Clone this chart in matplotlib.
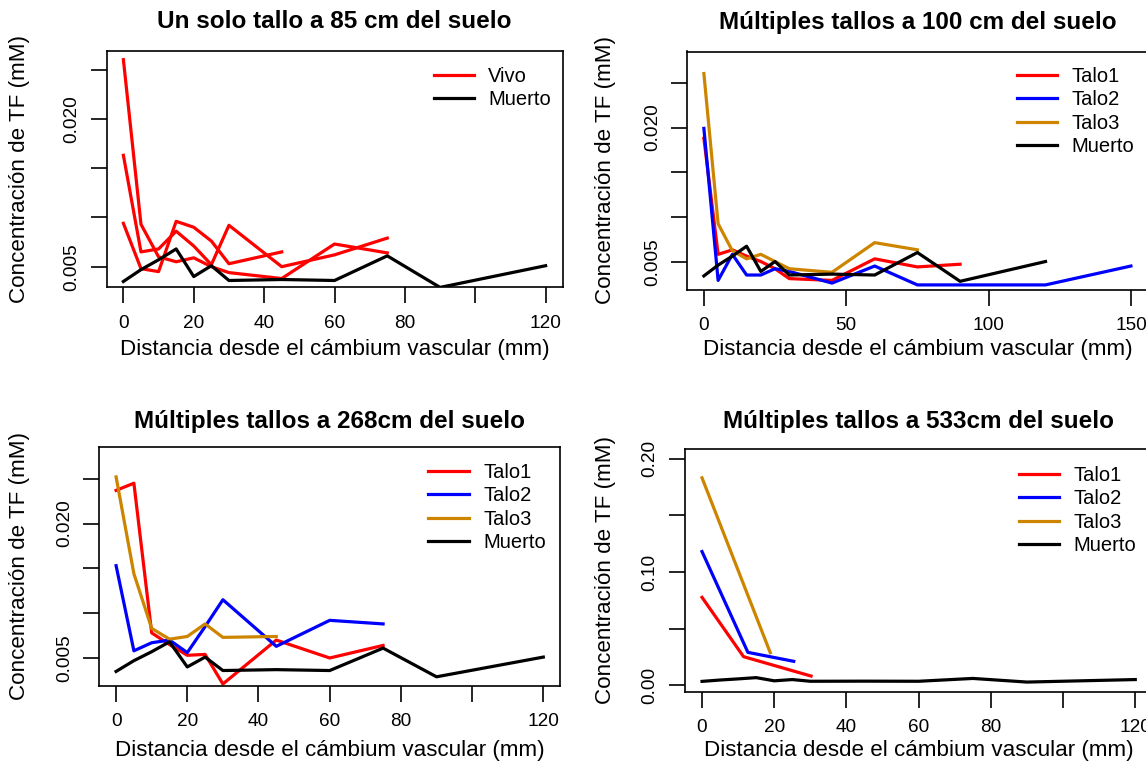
import matplotlib
matplotlib.use('Agg')
from matplotlib import pyplot as plt

# Muerto: the same dead stem is drawn in every panel
muerto_x = [0, 5, 10, 15, 20, 25, 30, 45, 60, 75, 90, 120]
muerto_y = [0.0035, 0.0047, 0.0057, 0.0068, 0.0040, 0.0051, 0.0036, 0.0037, 0.0036, 0.0061, 0.0029, 0.0051]

# panel 1 - un solo tallo a 85 cm, three living profiles (all "Vivo")
vivo_a_x = [0, 5, 10, 15, 20, 25, 30, 45, 60, 75]
vivo_a_y = [0.0163, 0.0065, 0.0068, 0.0086, 0.0071, 0.0052, 0.0092, 0.0050, 0.0062, 0.0079]
vivo_b_x = [0, 5, 10, 15, 20, 25, 30, 45]
vivo_b_y = [0.0094, 0.0048, 0.0045, 0.0096, 0.0090, 0.0076, 0.0053, 0.0065]
vivo_c_x = [0, 5, 10, 15, 20, 25, 30, 45, 60, 75]
vivo_c_y = [0.0260, 0.0093, 0.0060, 0.0055, 0.0059, 0.0050, 0.0044, 0.0038, 0.0073, 0.0064]

# panel 2 - 100 cm
p100_t1_x = [0, 5, 10, 15, 20, 25, 30, 45, 60, 75, 90]
p100_t1_y = [0.0188, 0.0059, 0.0064, 0.0057, 0.0051, 0.0043, 0.0032, 0.0030, 0.0054, 0.0045, 0.0048]
p100_t2_x = [0, 5, 10, 15, 20, 25, 30, 45, 60, 75, 120, 150]
p100_t2_y = [0.0199, 0.0030, 0.0059, 0.0036, 0.0036, 0.0043, 0.0040, 0.0027, 0.0046, 0.0025, 0.0025, 0.0046]
p100_t3_x = [0, 5, 10, 15, 20, 25, 30, 45, 60, 75]
p100_t3_y = [0.0260, 0.0093, 0.0063, 0.0054, 0.0059, 0.0051, 0.0043, 0.0039, 0.0072, 0.0064]

# panel 3 - 268 cm
p268_t1_x = [0, 5, 10, 15, 20, 25, 30, 45, 60, 75]
p268_t1_y = [0.0237, 0.0245, 0.0078, 0.0065, 0.0053, 0.0054, 0.0021, 0.0070, 0.0050, 0.0064]
p268_t2_x = [0, 5, 10, 15, 20, 25, 30, 45, 60, 75]
p268_t2_y = [0.0153, 0.0058, 0.0067, 0.0070, 0.0056, 0.0085, 0.0115, 0.0063, 0.0092, 0.0088]
p268_t3_x = [0, 5, 10, 15, 20, 25, 30, 45]
p268_t3_y = [0.0252, 0.0144, 0.0083, 0.0071, 0.0074, 0.0088, 0.0073, 0.0074]

# panel 4 - 533 cm
p533_t1_x = [0, 11.5, 30.2]
p533_t1_y = [0.0776, 0.0253, 0.0082]
p533_t2_x = [0, 12.7, 25.4]
p533_t2_y = [0.118, 0.0291, 0.0212]
p533_t3_x = [0, 18.9]
p533_t3_y = [0.183, 0.0288]

titles = ['Un solo tallo a 85 cm del suelo',
          'Múltiples tallos a 100 cm del suelo',
          'Múltiples tallos a 268cm del suelo',
          'Múltiples tallos a 533cm del suelo']
xlab = 'Distancia desde el cámbium vascular (mm)'
ylab = 'Concentración de TF (mM)'
stem_labels = ['Talo1', 'Talo2', 'Talo3', 'Muerto']

RED = '#FF0000'
BLUE = '#0000FF'
GOLD = '#CD8500'
BLACK = '#000000'
LW = 2.3

W, H = 1146, 763
PT = 100 / 72.0  # pixels per point


def add_panel(fig, left, right, top, bottom):
    ax = fig.add_axes([left / W, 1 - bottom / H, (right - left) / W, (bottom - top) / H])
    ax.box_px = (left, right, top, bottom)
    return ax


def style_panel(ax, title, title_gap, xticks, xticklabels, yticks, yticklabels,
                xlim, ylim, xlab_gap, ylab_right, leg_x, leg_top):
    left, right, top, bottom = ax.box_px
    w = right - left
    h = bottom - top
    ax.set_xlim(xlim)
    ax.set_ylim(ylim)
    ax.set_xticks(xticks)
    ax.set_xticklabels(xticklabels)
    ax.set_yticks(yticks)
    ax.set_yticklabels(yticklabels, rotation=90, va='center')
    ax.tick_params(direction='out', length=16 / PT, width=1.2, labelsize=13.7)
    ax.tick_params(axis='x', pad=11.5 / PT)
    ax.tick_params(axis='y', pad=10 / PT)
    for s in ax.spines.values():
        s.set_linewidth(1.2)
    ax.set_title(title, fontsize=17.5, fontweight='bold', pad=title_gap / PT)
    ax.set_xlabel(xlab, fontsize=16.1)
    ax.set_ylabel(ylab, fontsize=16.1)
    ax.xaxis.set_label_coords(0.5, -xlab_gap / h)
    ax.yaxis.set_label_coords((ylab_right - left) / w, 0.5)
    ax.legend(loc='upper left', bbox_to_anchor=((leg_x - left) / w, (bottom - leg_top) / h),
              frameon=False, fontsize=14.5, borderaxespad=0, borderpad=0,
              handlelength=2.0, handletextpad=0.72, labelspacing=0.22)


def main():
    plt.rcParams['font.family'] = ['Liberation Sans', 'DejaVu Sans']
    fig = plt.figure(figsize=(W / 100, H / 100), dpi=100)

    small_yt = [0.005, 0.010, 0.015, 0.020, 0.025]
    small_yl = ['0.005', '', '', '0.020', '']
    x120 = [0, 20, 40, 60, 80, 100, 120]
    x120_l = ['0', '20', '40', '60', '80', '', '120']

    # panel 1
    ax = add_panel(fig, 106.5, 562.5, 51, 287)
    ax.plot(vivo_a_x, vivo_a_y, color=RED, lw=LW, label='Vivo')
    ax.plot(vivo_b_x, vivo_b_y, color=RED, lw=LW)
    ax.plot(vivo_c_x, vivo_c_y, color=RED, lw=LW)
    ax.plot(muerto_x, muerto_y, color=BLACK, lw=LW, label='Muerto')
    style_panel(ax, titles[0], 23, x120, x120_l, small_yt, small_yl,
                (-4.8, 124.8), (0.00294, 0.02688), 52, 30.5, 433.5, 66.8)

    # panel 2
    ax = add_panel(fig, 686.8, 1148, 51.5, 289.5)
    ax.plot(p100_t1_x, p100_t1_y, color=RED, lw=LW, label=stem_labels[0])
    ax.plot(p100_t2_x, p100_t2_y, color=BLUE, lw=LW, label=stem_labels[1])
    ax.plot(p100_t3_x, p100_t3_y, color=GOLD, lw=LW, label=stem_labels[2])
    ax.plot(muerto_x, muerto_y, color=BLACK, lw=LW, label=stem_labels[3])
    style_panel(ax, titles[1], 22.7, [0, 50, 100, 150], ['0', '50', '100', '150'],
                small_yt, small_yl, (-6, 156), (0.00199, 0.02845), 49.5, 616, 1016.7, 66.8)

    # panel 3
    ax = add_panel(fig, 99, 560.4, 447, 685.5)
    ax.plot(p268_t1_x, p268_t1_y, color=RED, lw=LW, label=stem_labels[0])
    ax.plot(p268_t2_x, p268_t2_y, color=BLUE, lw=LW, label=stem_labels[1])
    ax.plot(p268_t3_x, p268_t3_y, color=GOLD, lw=LW, label=stem_labels[2])
    ax.plot(muerto_x, muerto_y, color=BLACK, lw=LW, label=stem_labels[3])
    style_panel(ax, titles[2], 18.7, x120, x120_l, small_yt, small_yl,
                (-4.8, 124.8), (0.00193, 0.02854), 54.5, 30, 428.4, 462.8)

    # panel 4
    ax = add_panel(fig, 684.7, 1152.6, 449.3, 691.7)
    ax.plot(p533_t1_x, p533_t1_y, color=RED, lw=LW, label=stem_labels[0])
    ax.plot(p533_t2_x, p533_t2_y, color=BLUE, lw=LW, label=stem_labels[1])
    ax.plot(p533_t3_x, p533_t3_y, color=GOLD, lw=LW, label=stem_labels[2])
    ax.plot(muerto_x, muerto_y, color=BLACK, lw=LW, label=stem_labels[3])
    style_panel(ax, titles[3], 21, x120, x120_l,
                [0.00, 0.05, 0.10, 0.15, 0.20], ['0.00', '', '0.10', '', '0.20'],
                (-4.8, 124.8), (-0.0056, 0.2082), 48.4, 616, 1019, 465.8)

    fig.savefig('out.png', dpi=100)


if __name__ == '__main__':
    main()
